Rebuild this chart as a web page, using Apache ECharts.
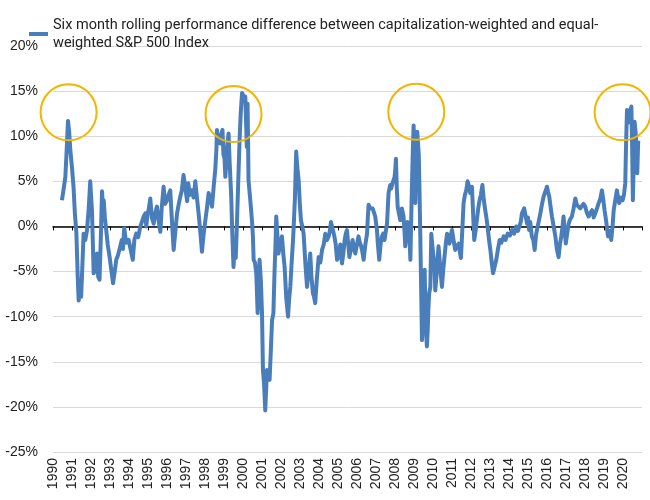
<!DOCTYPE html>
<html>
<head>
<meta charset="utf-8">
<script src="https://cdn.jsdelivr.net/npm/echarts@6/dist/echarts.min.js"></script>
<style>
  html, body { margin: 0; padding: 0; background: #fff; }
  #chart { width: 650px; height: 500px; }
</style>
</head>
<body>
<div id="chart"></div>
<script>
// six month rolling difference, cap-weighted minus equal-weighted (percent), [year, value]
var diff1990s = [
  [1990.47, 2.9], [1990.55, 4.0], [1990.65, 5.5], [1990.72, 8.5], [1990.79, 11.7], [1990.85, 10.5],
  [1990.91, 8.5], [1991.0, 6.5], [1991.08, 4.4], [1991.15, 1.5], [1991.23, -0.7], [1991.3, -5.5],
  [1991.35, -8.2], [1991.42, -7.0], [1991.48, -7.8], [1991.53, -5.2], [1991.58, -2.5], [1991.61, -0.8],
  [1991.7, -1.5], [1991.79, -0.4], [1991.88, 2.0], [1991.96, 5.0], [1992.0, 3.5], [1992.05, 1.8],
  [1992.1, -2.0], [1992.14, -5.2], [1992.2, -3.5], [1992.25, -5.0], [1992.32, -3.0], [1992.38, -5.6],
  [1992.45, -5.9], [1992.52, -1.0], [1992.58, 3.9], [1992.62, 2.5], [1992.67, 2.9], [1992.73, 1.0],
  [1992.8, -0.4], [1992.88, -2.0], [1992.98, -3.4], [1993.08, -5.0], [1993.16, -6.3], [1993.25, -5.0],
  [1993.33, -3.7], [1993.42, -3.2], [1993.54, -2.2], [1993.62, -1.5], [1993.68, -2.5], [1993.75, -0.2],
  [1993.85, -1.8], [1993.98, -1.5], [1994.08, -2.5], [1994.2, -3.7], [1994.28, -1.5], [1994.38, -0.8],
  [1994.48, -1.2], [1994.6, 0.0], [1994.68, 0.5], [1994.77, 1.1], [1994.86, 1.45], [1994.91, 0.0],
  [1994.98, 1.5], [1995.03, 1.8], [1995.12, 3.1], [1995.2, 1.0], [1995.3, 0.3], [1995.38, 1.5],
  [1995.47, 2.2], [1995.55, 0.8], [1995.65, -0.6], [1995.72, 2.0], [1995.82, 4.4], [1995.9, 2.5],
  [1996.0, 2.9], [1996.08, 3.5], [1996.17, 4.0], [1996.25, 1.0], [1996.35, -2.6], [1996.44, -0.5],
  [1996.53, 1.45], [1996.62, 2.5], [1996.7, 3.3], [1996.78, 4.0], [1996.87, 5.7], [1996.95, 4.5],
  [1997.0, 3.7], [1997.06, 2.8], [1997.12, 4.8], [1997.2, 3.5], [1997.3, 4.0], [1997.4, 3.2],
  [1997.49, 5.0], [1997.56, 3.5], [1997.66, 1.5], [1997.75, -0.5], [1997.84, -2.8], [1997.92, -1.0],
  [1998.02, 0.7], [1998.1, 2.0], [1998.19, 3.7], [1998.28, 3.0], [1998.37, 2.2], [1998.46, 4.5],
  [1998.54, 6.3], [1998.6, 8.5], [1998.63, 10.7], [1998.7, 9.5], [1998.75, 10.0], [1998.8, 9.2],
  [1998.86, 10.2], [1998.92, 10.7], [1998.97, 8.0], [1999.03, 7.5], [1999.07, 5.5], [1999.12, 7.0],
  [1999.17, 9.0], [1999.24, 10.3], [1999.3, 7.0], [1999.38, 3.3], [1999.44, -1.0], [1999.5, -4.5],
  [1999.56, -2.0], [1999.62, -3.5], [1999.68, 0.3], [1999.75, 5.0], [1999.82, 9.6], [1999.88, 12.5],
  [1999.95, 14.8]
];
var diff2000s = [
  [2000.02, 14.5], [2000.08, 14.0], [2000.12, 14.4], [2000.17, 11.0], [2000.2, 8.8], [2000.24, 13.6],
  [2000.27, 9.0], [2000.29, 5.1], [2000.38, 3.0], [2000.47, 0.7], [2000.52, -1.0], [2000.56, -3.7],
  [2000.63, -4.0], [2000.7, -5.2], [2000.77, -9.6], [2000.82, -7.0], [2000.87, -3.7], [2000.94, -6.0],
  [2001.0, -9.6], [2001.05, -15.9], [2001.11, -17.5], [2001.17, -20.4], [2001.22, -18.0], [2001.26, -15.9],
  [2001.33, -16.5], [2001.4, -17.0], [2001.47, -13.5], [2001.53, -10.4], [2001.6, -9.6], [2001.66, -5.0],
  [2001.71, -2.0], [2001.75, 1.1], [2001.81, -1.0], [2001.87, -3.0], [2001.95, -2.0], [2002.05, -1.1],
  [2002.12, -3.0], [2002.19, -4.5], [2002.28, -8.0], [2002.37, -10.0], [2002.43, -8.0], [2002.49, -6.7],
  [2002.56, -4.0], [2002.62, -2.0], [2002.66, -0.4], [2002.73, 3.0], [2002.8, 8.3], [2002.86, 6.5],
  [2002.93, 5.1], [2002.99, 2.5], [2003.05, 0.7], [2003.12, 0.0], [2003.19, -0.8], [2003.28, -4.0],
  [2003.37, -6.7], [2003.45, -5.0], [2003.54, -3.0], [2003.6, -5.5], [2003.68, -7.4], [2003.74, -7.8],
  [2003.8, -8.5], [2003.88, -6.0], [2003.98, -3.4], [2004.07, -4.0], [2004.16, -2.6], [2004.25, -2.0],
  [2004.33, -0.8], [2004.42, -1.5], [2004.51, -1.1], [2004.57, -0.5], [2004.63, 0.5], [2004.72, -0.3],
  [2004.81, -1.1], [2004.88, -2.0], [2004.95, -3.7], [2005.03, -3.4], [2005.12, -2.0], [2005.21, -4.1],
  [2005.28, -3.0], [2005.35, -1.5], [2005.41, -0.8], [2005.47, -0.4], [2005.54, -2.0], [2005.6, -3.4],
  [2005.68, -2.5], [2005.77, -1.5], [2005.84, -2.5], [2005.91, -3.0], [2006.0, -2.0], [2006.08, -1.1],
  [2006.15, -1.8], [2006.22, -2.2], [2006.28, -2.8], [2006.35, -3.7], [2006.44, -2.0], [2006.53, -0.8],
  [2006.57, 1.0], [2006.61, 2.4], [2006.7, 2.0], [2006.76, 2.2], [2006.82, 2.0], [2006.9, 1.5],
  [2006.96, 1.1], [2007.05, -0.4], [2007.1, -2.0], [2007.17, -3.7], [2007.24, -2.0], [2007.31, -1.1],
  [2007.38, -0.8], [2007.45, -1.5], [2007.52, -0.5], [2007.58, 0.3], [2007.62, 2.0], [2007.66, 3.7],
  [2007.7, 3.8], [2007.75, 4.6], [2007.8, 4.2], [2007.87, 4.8], [2007.93, 5.0], [2007.98, 5.5],
  [2008.02, 6.5], [2008.05, 7.5], [2008.09, 4.5], [2008.14, 2.2], [2008.2, 1.5], [2008.28, 0.7],
  [2008.36, 2.0], [2008.45, 1.1], [2008.5, -0.5], [2008.54, -2.2], [2008.6, -1.0], [2008.66, 0.5],
  [2008.72, 0.0], [2008.77, -1.5], [2008.81, -3.7], [2008.85, 0.5], [2008.89, 4.4], [2008.94, 8.5],
  [2008.98, 11.2], [2009.02, 7.0], [2009.05, 3.5], [2009.07, 2.6], [2009.1, 6.0], [2009.14, 8.5],
  [2009.17, 10.5], [2009.21, 10.3], [2009.25, 8.0], [2009.29, 4.0], [2009.33, -0.8], [2009.37, -6.0],
  [2009.42, -12.6], [2009.47, -9.0], [2009.52, -6.5], [2009.56, -4.8], [2009.6, -9.0], [2009.64, -12.0],
  [2009.68, -13.3], [2009.72, -11.5], [2009.76, -9.0], [2009.8, -7.4], [2009.86, -6.7], [2009.91, -0.8],
  [2009.96, -2.0]
];
var diff2010s = [
  [2010.03, -2.2], [2010.08, -4.5], [2010.12, -7.1], [2010.2, -5.0], [2010.29, -2.2], [2010.36, -4.0],
  [2010.42, -5.5], [2010.47, -6.7], [2010.53, -5.0], [2010.59, -3.7], [2010.67, -2.0], [2010.74, -0.8],
  [2010.8, -1.5], [2010.87, -1.9], [2010.93, -1.0], [2011.0, -0.4], [2011.08, -1.5], [2011.17, -2.6],
  [2011.26, -2.2], [2011.35, -1.9], [2011.41, -2.8], [2011.47, -3.5], [2011.54, -0.5], [2011.61, 2.6],
  [2011.68, 3.5], [2011.75, 4.0], [2011.82, 5.0], [2011.89, 4.5], [2011.96, 3.7], [2012.05, 4.4],
  [2012.1, 2.0], [2012.17, -1.5], [2012.24, -0.5], [2012.31, 0.7], [2012.38, 2.0], [2012.45, 2.9],
  [2012.52, 3.5], [2012.6, 4.6], [2012.67, 3.0], [2012.75, 1.8], [2012.81, 1.0], [2012.87, 0.0],
  [2012.95, -1.5], [2013.02, -2.6], [2013.09, -4.0], [2013.16, -5.2], [2013.24, -4.5], [2013.33, -3.7],
  [2013.42, -2.5], [2013.51, -1.5], [2013.6, -1.8], [2013.72, -1.1], [2013.82, -1.5], [2013.93, -0.8],
  [2014.05, -1.0], [2014.16, -0.4], [2014.27, -0.8], [2014.38, 0.0], [2014.47, -0.5], [2014.56, -0.3],
  [2014.62, 0.5], [2014.68, 1.45], [2014.74, 1.5], [2014.8, 2.0], [2014.86, 2.2], [2014.95, 0.3],
  [2015.0, 1.0], [2015.06, -0.4], [2015.12, 0.5], [2015.2, -1.1], [2015.28, -1.5], [2015.35, -2.6],
  [2015.42, -1.0], [2015.47, -0.4], [2015.56, 0.5], [2015.65, 1.45], [2015.74, 2.5], [2015.82, 3.3],
  [2015.9, 3.8], [2016.0, 4.4], [2016.06, 3.8], [2016.12, 3.3], [2016.2, 2.0], [2016.26, 1.1],
  [2016.35, 0.0], [2016.44, -1.1], [2016.52, -2.5], [2016.61, -3.4], [2016.68, -2.0], [2016.75, -1.1],
  [2016.82, 0.0], [2016.87, 1.1], [2016.93, -0.5], [2016.99, -1.9], [2017.06, -0.8], [2017.14, 0.3],
  [2017.22, 0.8], [2017.31, 1.1], [2017.4, 2.0], [2017.49, 3.1], [2017.57, 2.4], [2017.66, 2.6],
  [2017.75, 2.0], [2017.84, 1.8], [2017.92, 2.5], [2018.01, 2.2], [2018.1, 1.5], [2018.19, 1.1],
  [2018.28, 1.5], [2018.37, 1.8], [2018.46, 1.0], [2018.54, 1.45], [2018.63, 2.0], [2018.72, 2.6],
  [2018.8, 3.0], [2018.89, 4.0], [2018.96, 3.0], [2019.03, 1.8], [2019.12, 0.5], [2019.21, -1.1],
  [2019.3, -0.5], [2019.38, -1.5], [2019.45, 0.0], [2019.51, 1.8], [2019.6, 3.0], [2019.68, 4.0],
  [2019.74, 3.2], [2019.8, 2.6], [2019.9, 3.2], [2019.98, 2.9]
];
var diff2020 = [
  [2020.05, 3.5], [2020.12, 4.8], [2020.16, 9.0], [2020.21, 12.9], [2020.27, 11.5], [2020.33, 12.2],
  [2020.38, 12.8], [2020.44, 13.3], [2020.48, 9.0], [2020.52, 2.9], [2020.56, 7.0], [2020.61, 11.6],
  [2020.66, 10.5], [2020.7, 9.2], [2020.75, 5.9], [2020.8, 9.5]
];

// highlighted peaks [year, percent]
var circleCenters = [[1990.82, 12.65], [1999.5, 12.45], [2009.12, 12.7], [2019.98, 12.65]];

var seriesName = 'Six month rolling performance difference between capitalization-weighted and equal-\nweighted S&P 500 Index';
var lineColor = '#4a7ebb';

var chart = echarts.init(document.getElementById('chart'));

chart.setOption({
  animation: false,
  legend: {
    left: 24,
    top: 2,
    icon: 'rect',
    itemWidth: 19,
    itemHeight: 4,
    itemGap: 2,
    selectedMode: false,
    textStyle: {
      fontFamily: 'Roboto',
      fontSize: 14.5,
      color: '#222',
      lineHeight: 18,
      padding: [18, 0, 0, 0]
    }
  },
  grid: { left: 53, right: 8, top: 46, bottom: 48 },
  xAxis: [
    {
      type: 'value',
      min: 1990,
      max: 2021,
      interval: 1,
      position: 'bottom',
      axisLine: { show: false, onZero: false },
      axisTick: { show: false },
      splitLine: { show: false },
      axisLabel: {
        rotate: 90,
        margin: 6,
        fontFamily: 'Liberation Sans',
        fontSize: 14,
        color: '#222',
        formatter: function (v) { return v === 2021 ? '' : String(v); }
      }
    },
    {
      type: 'value',
      min: 1990,
      max: 2021,
      interval: 1,
      position: 'bottom',
      axisLine: { show: true, onZero: true, lineStyle: { color: '#000', width: 1.5 } },
      axisTick: { show: true, length: 4, lineStyle: { color: '#000', width: 1 } },
      axisLabel: { show: false },
      splitLine: { show: false }
    }
  ],
  yAxis: {
    type: 'value',
    min: -25,
    max: 20,
    interval: 5,
    axisLine: { show: false },
    axisTick: { show: false },
    splitLine: { lineStyle: { color: '#d9d9d9', width: 1 } },
    axisLabel: {
      margin: 15,
      fontFamily: 'Liberation Sans',
      fontSize: 14,
      color: '#222',
      formatter: '{value}%'
    }
  },
  series: [
    {
      name: seriesName,
      type: 'line',
      xAxisIndex: 0,
      data: diff1990s.concat(diff2000s, diff2010s, diff2020),
      showSymbol: false,
      lineStyle: { color: lineColor, width: 4, join: 'round' },
      itemStyle: { color: lineColor },
      z: 3
    }
  ]
});

// yellow circles drawn around the peaks
chart.setOption({
  graphic: circleCenters.map(function (c) {
    var p = chart.convertToPixel({ xAxisIndex: 0, yAxisIndex: 0 }, c);
    return {
      type: 'circle',
      shape: { cx: p[0], cy: p[1], r: 28 },
      style: { fill: 'none', stroke: '#f5b400', lineWidth: 2 },
      z: 10
    };
  })
});
</script>
</body>
</html>
